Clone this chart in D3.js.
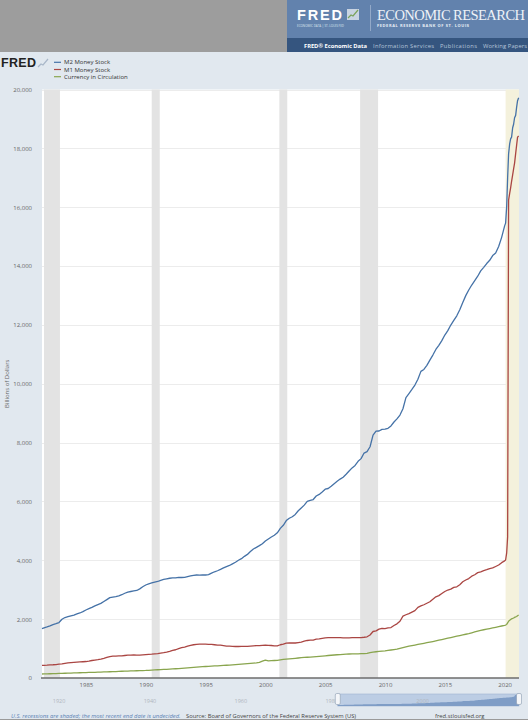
<!DOCTYPE html>
<html>
<meta charset="utf-8">
<title>M2, M1 and currency</title>
<style>
html,body{
  margin:0;
  background:#e1e8ef;
}
svg { display:block; font-family:"Open Sans", sans-serif; }
</style>
<script src="https://cdn.jsdelivr.net/npm/d3@7"></script>
<body>
<script>

// observation dates (decimal years): quarterly, monthly from 2020
var dates = [
  1981.33, 1981.5, 1981.75,
  1982, 1982.25, 1982.5, 1982.75,
  1983, 1983.25, 1983.5, 1983.75,
  1984, 1984.25, 1984.5, 1984.75,
  1985, 1985.25, 1985.5, 1985.75,
  1986, 1986.25, 1986.5, 1986.75,
  1987, 1987.25, 1987.5, 1987.75,
  1988, 1988.25, 1988.5, 1988.75,
  1989, 1989.25, 1989.5, 1989.75,
  1990, 1990.25, 1990.5, 1990.75,
  1991, 1991.25, 1991.5, 1991.75,
  1992, 1992.25, 1992.5, 1992.75,
  1993, 1993.25, 1993.5, 1993.75,
  1994, 1994.25, 1994.5, 1994.75,
  1995, 1995.25, 1995.5, 1995.75,
  1996, 1996.25, 1996.5, 1996.75,
  1997, 1997.25, 1997.5, 1997.75,
  1998, 1998.25, 1998.5, 1998.75,
  1999, 1999.25, 1999.5, 1999.75,
  2000, 2000.25, 2000.5, 2000.75,
  2001, 2001.25, 2001.5, 2001.75,
  2002, 2002.25, 2002.5, 2002.75,
  2003, 2003.25, 2003.5, 2003.75,
  2004, 2004.25, 2004.5, 2004.75,
  2005, 2005.25, 2005.5, 2005.75,
  2006, 2006.25, 2006.5, 2006.75,
  2007, 2007.25, 2007.5, 2007.75,
  2008, 2008.25, 2008.5, 2008.75,
  2009, 2009.25, 2009.5, 2009.75,
  2010, 2010.25, 2010.5, 2010.75,
  2011, 2011.25, 2011.5, 2011.75,
  2012, 2012.25, 2012.5, 2012.75,
  2013, 2013.25, 2013.5, 2013.75,
  2014, 2014.25, 2014.5, 2014.75,
  2015, 2015.25, 2015.5, 2015.75,
  2016, 2016.25, 2016.5, 2016.75,
  2017, 2017.25, 2017.5, 2017.75,
  2018, 2018.25, 2018.5, 2018.75,
  2019, 2019.25, 2019.5, 2019.75,
  2020, 2020.08, 2020.17, 2020.25, 2020.33, 2020.42, 2020.5, 2020.58, 2020.67, 2020.75, 2020.83, 2020.92,
  2021, 2021.08, 2021.17
];

// billions of dollars
var m2 = [
  1680, 1705, 1735,
  1770, 1815, 1845, 1885,
  1995, 2055, 2085, 2115,
  2140, 2180, 2210, 2255,
  2310, 2355, 2400, 2450,
  2495, 2535, 2600, 2665,
  2730, 2750, 2765, 2790,
  2830, 2880, 2920, 2940,
  2960, 2975, 3030, 3100,
  3160, 3200, 3230, 3260,
  3280, 3320, 3350, 3370,
  3390, 3400, 3400, 3420,
  3415, 3420, 3445, 3470,
  3490, 3500, 3495, 3500,
  3500, 3515, 3565, 3610,
  3645, 3690, 3740, 3785,
  3825, 3880, 3935, 4000,
  4055, 4135, 4200, 4300,
  4385, 4440, 4500, 4565,
  4655, 4725, 4790, 4850,
  4935, 5085, 5190, 5350,
  5430, 5480, 5560, 5685,
  5780, 5875, 6005, 6040,
  6065, 6185, 6240, 6320,
  6415, 6440, 6515, 6605,
  6685, 6760, 6825, 6925,
  7035, 7140, 7225, 7365,
  7455, 7645, 7695, 7860,
  8255, 8390, 8395, 8450,
  8460, 8485, 8565, 8700,
  8805, 8935, 9150, 9530,
  9665, 9805, 9955, 10155,
  10420, 10485, 10625, 10805,
  10975, 11165, 11305, 11465,
  11655, 11805, 11995, 12155,
  12310, 12515, 12765, 12995,
  13185, 13355, 13505, 13655,
  13835, 13955, 14085, 14195,
  14355, 14445, 14665, 14975,
  15365, 15460, 16020, 17000, 17810, 18150, 18320, 18380, 18700, 18820, 19040, 19120,
  19390, 19620, 19720
];

var m1 = [
  430, 432, 436,
  448, 450, 455, 470,
  480, 500, 515, 522,
  530, 540, 545, 552,
  560, 575, 595, 610,
  625, 645, 670, 700,
  730, 745, 745, 750,
  755, 765, 775, 780,
  785, 775, 775, 785,
  795, 805, 810, 820,
  830, 845, 860, 880,
  905, 935, 960, 1000,
  1030, 1050, 1080, 1110,
  1130, 1145, 1150, 1150,
  1150, 1145, 1140, 1130,
  1120, 1115, 1100, 1085,
  1080, 1075, 1070, 1070,
  1075, 1075, 1075, 1085,
  1095, 1100, 1100, 1110,
  1120, 1110, 1105, 1095,
  1095, 1130, 1150, 1185,
  1190, 1190, 1190, 1205,
  1220, 1250, 1275, 1285,
  1290, 1320, 1330, 1350,
  1365, 1370, 1370, 1375,
  1375, 1370, 1365, 1365,
  1365, 1370, 1370, 1370,
  1375, 1385, 1400, 1460,
  1580, 1600, 1660, 1690,
  1680, 1700, 1715, 1785,
  1840, 1930, 2100, 2150,
  2190, 2240, 2290, 2400,
  2450, 2490, 2540, 2590,
  2680, 2760, 2800, 2870,
  2940, 2990, 3020, 3080,
  3100, 3170, 3270, 3330,
  3380, 3460, 3510, 3580,
  3610, 3650, 3680, 3720,
  3740, 3790, 3840, 3920,
  3980, 4010, 4250, 4800, 16240, 16470, 16660, 16880, 17100, 17300, 17500, 17820,
  18100, 18380, 18420
];

var currency = [
  136, 138, 141,
  145, 148, 151, 154,
  158, 161, 165, 168,
  172, 175, 178, 182,
  185, 188, 191, 194,
  197, 201, 205, 208,
  212, 216, 220, 225,
  229, 232, 236, 240,
  243, 246, 249, 253,
  256, 262, 268, 275,
  281, 285, 290, 295,
  300, 307, 314, 321,
  328, 336, 344, 352,
  360, 368, 376, 384,
  391, 396, 402, 409,
  415, 421, 427, 434,
  440, 448, 456, 464,
  472, 480, 489, 498,
  507, 516, 530, 570,
  610, 585, 590, 595,
  600, 615, 630, 640,
  650, 660, 670, 680,
  690, 698, 705, 712,
  720, 728, 737, 746,
  755, 764, 773, 782,
  790, 797, 803, 809,
  815, 817, 819, 821,
  825, 830, 835, 860,
  880, 892, 905, 915,
  925, 938, 952, 966,
  980, 1005, 1030, 1055,
  1080, 1100, 1120, 1140,
  1160, 1180, 1200, 1220,
  1240, 1262, 1285, 1307,
  1330, 1352, 1375, 1397,
  1420, 1442, 1465, 1487,
  1510, 1537, 1565, 1592,
  1620, 1640, 1660, 1680,
  1700, 1722, 1745, 1767,
  1790, 1800, 1820, 1870, 1930, 1960, 1990, 2010, 2025, 2040, 2060, 2075,
  2090, 2115, 2140
];

var seriesNames = ["M2 Money Stock", "M1 Money Stock", "Currency in Circulation"];
var seriesColors = ["#4572a7", "#aa4643", "#89a54e"];

// recessions [start, end]; last one still open
var recessions = [[1981.5, 1982.83], [1990.5, 1991.17], [2001.17, 2001.83], [2007.92, 2009.42], [2020.08, 2021.2]];

var yTicks = [0, 2000, 4000, 6000, 8000, 10000, 12000, 14000, 16000, 18000, 20000];
var xTicks = [1985, 1990, 1995, 2000, 2005, 2010, 2015, 2020];
var navTicks = [1920, 1940, 1960, 1980, 2000];

var width = 528, height = 720;
var plotLeft = 42, plotRight = 519, plotTop = 89.5, plotBottom = 678;

var svg = d3.select("body").append("svg")
    .attr("width", width)
    .attr("height", height);

svg.append("rect").attr("width", width).attr("height", height).attr("fill", "#e1e8ef");

// ---- site header ----
var header = svg.append("g");
header.append("rect").attr("width", 287).attr("height", 52).attr("fill", "#9d9d9d");
header.append("rect").attr("x", 287).attr("width", width - 287).attr("height", 38).attr("fill", "#6282ad");
header.append("rect").attr("x", 287).attr("y", 38).attr("width", width - 287).attr("height", 14).attr("fill", "#35557f");
header.append("text").attr("x", 297).attr("y", 20)
    .attr("font-family", "Liberation Sans, Arial").attr("font-weight", "bold")
    .attr("font-size", 14.5).attr("fill", "#fff").attr("textLength", 45)
    .text("FRED");
header.append("rect").attr("x", 347).attr("y", 9).attr("width", 12).attr("height", 11)
    .attr("fill", "#c9d4e2");
header.append("polyline").attr("points", "348,18 351,15 353,16 358,10")
    .attr("fill", "none").attr("stroke", "#7aa35a").attr("stroke-width", 1.2);
header.append("text").attr("x", 297).attr("y", 27).attr("font-size", 3)
    .attr("fill", "#dfe6ef").attr("textLength", 47).text("ECONOMIC DATA | ST. LOUIS FED");
header.append("line").attr("x1", 370.5).attr("x2", 370.5).attr("y1", 5).attr("y2", 31)
    .attr("stroke", "#93a9c8");
header.append("text").attr("x", 377).attr("y", 19.5)
    .attr("font-family", "Liberation Serif, serif").attr("font-size", 14.5)
    .attr("fill", "#eef2f7").attr("textLength", 148).text("ECONOMIC RESEARCH");
header.append("text").attr("x", 377).attr("y", 27)
    .attr("font-size", 4).attr("font-weight", "bold").attr("fill", "#e8eef5")
    .attr("textLength", 92).text("FEDERAL RESERVE BANK OF ST. LOUIS");
var navItems = [["FRED® Economic Data", 304, 63, "#fff", "bold"], ["Information Services", 373, 61, "#b6c5da", "normal"],
                ["Publications", 440, 37, "#b6c5da", "normal"], ["Working Papers", 483, 44, "#b6c5da", "normal"]];
navItems.forEach(function(d) {
  header.append("text").attr("x", d[1]).attr("y", 47.5)
      .attr("font-size", 5.8).attr("font-weight", d[4]).attr("fill", d[3])
      .attr("textLength", d[2]).text(d[0]);
});

// ---- chart header: logo + legend ----
svg.append("text").attr("x", 1).attr("y", 67)
    .attr("font-family", "Liberation Sans, Arial").attr("font-weight", "bold")
    .attr("font-size", 12.5).attr("fill", "#222").attr("textLength", 35).text("FRED");
svg.append("polyline").attr("points", "38,67 41,64 43,65 48,59")
    .attr("fill", "none").attr("stroke", "#a9b7c9").attr("stroke-width", 1.2);

var legend = svg.append("g").selectAll("g")
    .data(seriesNames)
  .enter().append("g")
    .attr("transform", function(d, i) { return "translate(0," + (62.3 + i * 7.2) + ")"; });
legend.append("line").attr("x1", 54).attr("x2", 61)
    .attr("stroke", function(d, i) { return seriesColors[i]; }).attr("stroke-width", 1.2);
legend.append("text").attr("x", 64).attr("y", 2).attr("font-size", 6).attr("fill", "#333")
    .text(function(d) { return d; });

// ---- scales ----
var x = d3.scaleLinear().domain([1981.33, 2021.2]).range([plotLeft, plotRight]);
var y = d3.scaleLinear().domain([0, 20000]).range([plotBottom, plotTop]);

svg.append("rect").attr("x", plotLeft).attr("y", plotTop)
    .attr("width", plotRight - plotLeft).attr("height", plotBottom - plotTop).attr("fill", "#fff");

svg.append("g").selectAll("line")
    .data(yTicks.slice(1))
  .enter().append("line")
    .attr("x1", plotLeft).attr("x2", plotRight)
    .attr("y1", function(d) { return Math.round(y(d)) + 0.5; })
    .attr("y2", function(d) { return Math.round(y(d)) + 0.5; })
    .attr("stroke", "#ececec");

svg.append("g").selectAll("rect")
    .data(recessions)
  .enter().append("rect")
    .attr("x", function(d) { return x(d[0]); })
    .attr("width", function(d) { return Math.min(x(d[1]), plotRight) - x(d[0]); })
    .attr("y", plotTop).attr("height", plotBottom - plotTop)
    .attr("fill", function(d, i) { return i == recessions.length - 1 ? "#f4f1dc" : "#e3e3e3"; });

// y axis
var yAxis = svg.append("g")
    .attr("transform", "translate(" + (plotLeft - 7) + ",0)")
    .call(d3.axisLeft(y).tickValues(yTicks).tickSize(0).tickFormat(d3.format(",")));
yAxis.select(".domain").remove();
yAxis.selectAll("text").attr("font-size", 6).attr("fill", "#666").attr("font-family", "Open Sans");

svg.append("text")
    .attr("transform", "translate(9," + ((plotTop + plotBottom) / 2) + ") rotate(-90)")
    .attr("text-anchor", "middle").attr("font-size", 6).attr("fill", "#666")
    .text("Billions of Dollars");

// x axis
var xAxis = svg.append("g")
    .attr("transform", "translate(0," + plotBottom + ")")
    .call(d3.axisBottom(x).tickValues(xTicks).tickSize(0).tickPadding(5).tickFormat(d3.format("d")));
xAxis.select(".domain").attr("stroke", "#6d6d6d").attr("stroke-width", 1.6)
    .attr("d", "M" + (plotLeft - 1) + ",0H" + plotRight);
xAxis.selectAll("text").attr("font-size", 6).attr("fill", "#666").attr("font-family", "Open Sans");

// ---- lines ----
var series = [m2, m1, currency];
var line = d3.line()
    .x(function(d, i) { return x(dates[i]); })
    .y(function(d) { return y(d); });

svg.append("g").selectAll("path")
    .data(series.slice().reverse())
  .enter().append("path")
    .attr("d", line)
    .attr("fill", "none")
    .attr("stroke", function(d, i) { return seriesColors[series.length - 1 - i]; })
    .attr("stroke-width", 1.3)
    .attr("stroke-linejoin", "round");

// ---- navigator ----
var navTop = 694, navBottom = 706;
var nx = d3.scaleLinear().domain([1916.25, 2021.2]).range([plotLeft, plotRight]);
var ny = d3.scaleLinear().domain([0, 20000]).range([navBottom, navTop]);

svg.append("rect").attr("x", nx(dates[0])).attr("y", navTop)
    .attr("width", nx(2021.2) - nx(dates[0])).attr("height", navBottom - navTop)
    .attr("fill", "#bccde4").attr("stroke", "#9fb3d0").attr("stroke-width", 0.6);
svg.append("path")
    .datum(m2)
    .attr("d", d3.area()
        .x(function(d, i) { return nx(dates[i]); })
        .y0(navBottom).y1(function(d) { return ny(d); }))
    .attr("fill", "#7f9dc6");

svg.append("g").selectAll("text")
    .data(navTicks)
  .enter().append("text")
    .attr("x", function(d) { return nx(d); }).attr("y", 703)
    .attr("text-anchor", "middle").attr("font-size", 5.5).attr("fill", "#b0b6bd")
    .text(function(d) { return d; });

[nx(dates[0]), nx(2021.2)].forEach(function(hx) {
  svg.append("rect").attr("x", hx - 2.5).attr("y", navTop - 0.5).attr("width", 5).attr("height", 11)
      .attr("rx", 1.5).attr("fill", "#f4f6f9").attr("stroke", "#8a9aae").attr("stroke-width", 0.6);
});

// ---- footer ----
svg.append("text").attr("x", 11).attr("y", 718).attr("font-size", 5.8)
    .attr("font-style", "italic").attr("fill", "#5a82b4")
    .text("U.S. recessions are shaded; the most recent end date is undecided.");
svg.append("text").attr("x", 186).attr("y", 718).attr("font-size", 5.8).attr("fill", "#444")
    .text("Source: Board of Governors of the Federal Reserve System (US)");
svg.append("text").attr("x", 435).attr("y", 718).attr("font-size", 5.8).attr("fill", "#444")
    .text("fred.stlouisfed.org");
svg.append("rect").attr("y", 719).attr("width", width).attr("height", 1).attr("fill", "#9a9a9a");

</script>
</body>
</html>
